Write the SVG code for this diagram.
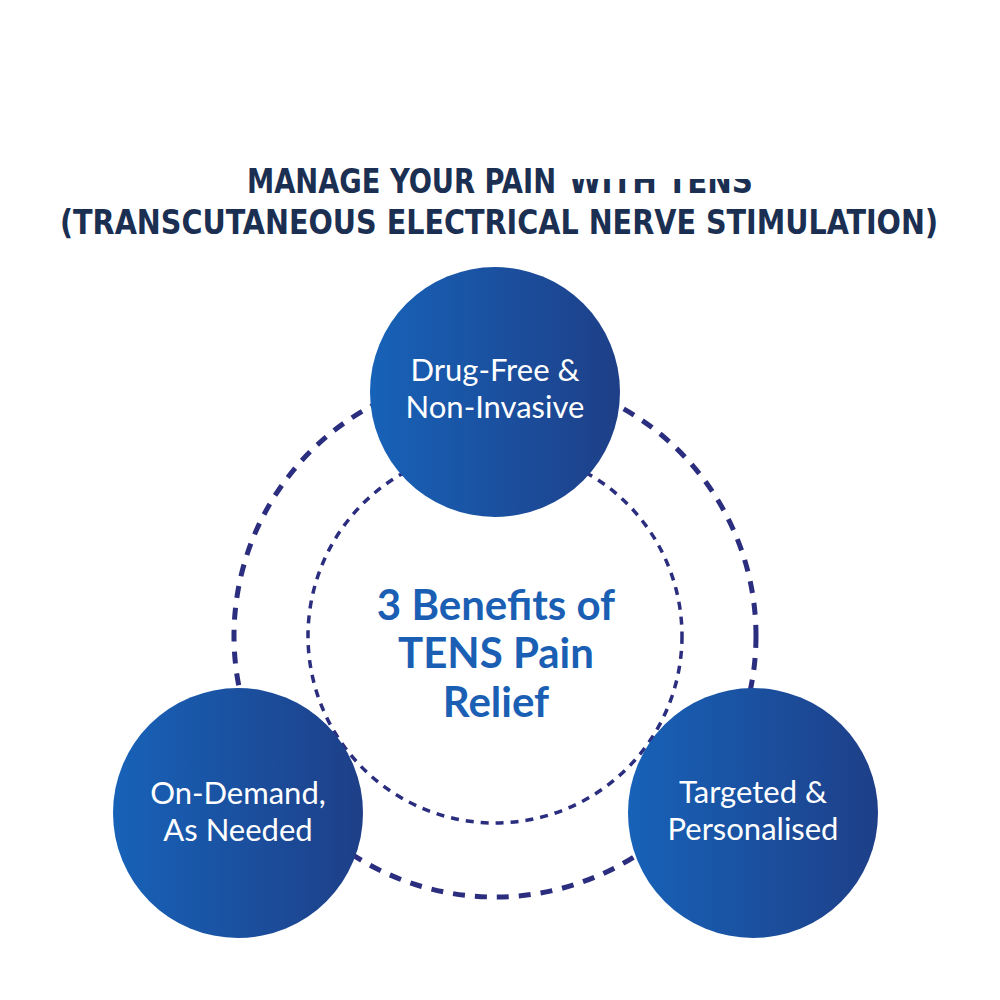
<svg xmlns="http://www.w3.org/2000/svg" width="1000" height="1000" viewBox="0 0 1000 1000">
<defs>
<linearGradient id="g" x1="0" y1="0" x2="1" y2="0">
<stop offset="0" stop-color="#1762b8"/>
<stop offset="1" stop-color="#1e3f88"/>
</linearGradient>
<clipPath id="cut"><rect x="0" y="179" width="1000" height="40"/></clipPath>
<style>
.title{font-family:"DejaVu Sans Condensed","DejaVu Sans",sans-serif;font-weight:bold;font-size:34px;fill:#1b2f52}
.node{fill:url(#g)}
.nt{font-family:Lato,"Open Sans",sans-serif;font-size:31px;fill:#ffffff;text-anchor:middle}
.ct{font-family:Lato,"Open Sans",sans-serif;font-weight:bold;font-size:42px;fill:#1a5fb4;text-anchor:middle}
.outer{fill:none;stroke:#2b2d7e;stroke-width:5;stroke-dasharray:12 10}
.inner{fill:none;stroke:#2b2d7e;stroke-width:3.5;stroke-dasharray:8 7}
</style>
</defs>
<rect width="1000" height="1000" fill="#ffffff"/>
<g id="title">
<text class="title" x="247" y="193" textLength="309" lengthAdjust="spacingAndGlyphs">MANAGE YOUR PAIN</text>
<text class="title" x="569" y="193" textLength="184" lengthAdjust="spacingAndGlyphs" clip-path="url(#cut)">WITH TENS</text>
<text class="title" x="60" y="234" textLength="878" lengthAdjust="spacingAndGlyphs">(TRANSCUTANEOUS ELECTRICAL NERVE STIMULATION)</text>
</g>
<g id="connectors">
<circle class="outer" cx="495" cy="636" r="261"/>
<circle class="inner" cx="495" cy="636" r="187"/>
</g>
<g id="center">
<text class="ct" x="496" y="620">3 Benefits of</text>
<text class="ct" x="496" y="668">TENS Pain</text>
<text class="ct" x="496" y="717">Relief</text>
</g>
<g id="node-top">
<circle class="node" cx="495" cy="392" r="125"/>
<text class="nt" x="495" y="381">Drug-Free &amp;</text>
<text class="nt" x="495" y="418">Non-Invasive</text>
</g>
<g id="node-left">
<circle class="node" cx="238" cy="813" r="125"/>
<text class="nt" x="238" y="804">On-Demand,</text>
<text class="nt" x="238" y="841">As Needed</text>
</g>
<g id="node-right">
<circle class="node" cx="753" cy="813" r="125"/>
<text class="nt" x="753" y="803">Targeted &amp;</text>
<text class="nt" x="753" y="840">Personalised</text>
</g>
</svg>
